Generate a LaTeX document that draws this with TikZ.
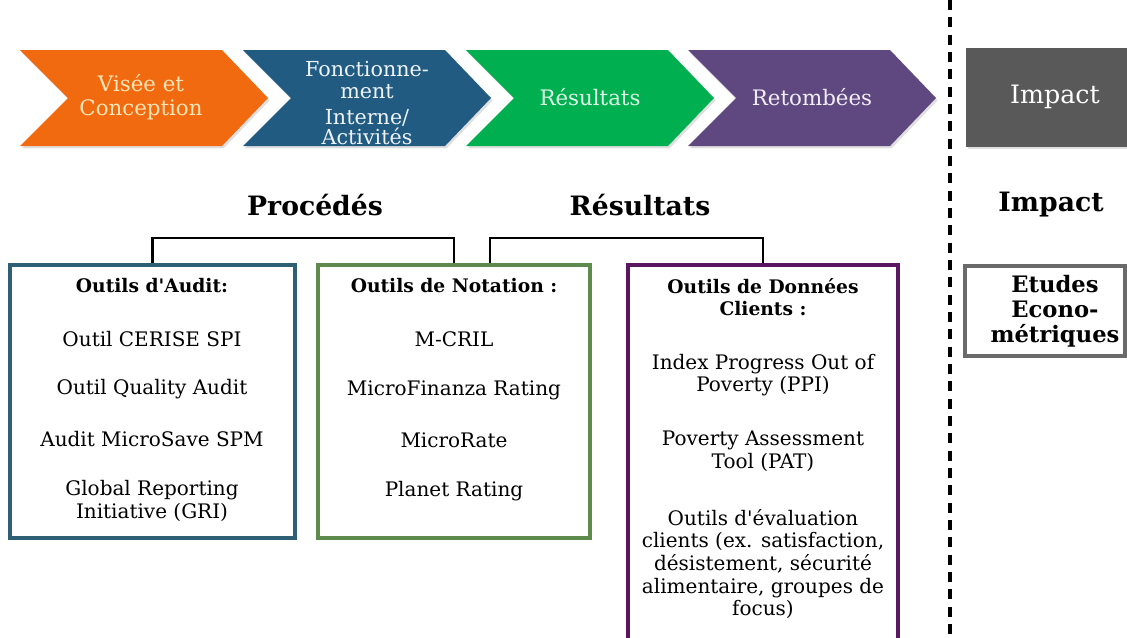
\documentclass[tikz,border=0pt]{standalone}
\usepackage{fontspec}
\setmainfont{DejaVu Serif}
\usetikzlibrary{shadows,calc}

\definecolor{cOrange}{HTML}{F26A10}
\definecolor{cBlue}{HTML}{215B82}
\definecolor{cGreen}{HTML}{00B050}
\definecolor{cPurple}{HTML}{5F4880}
\definecolor{cGrey}{HTML}{595959}
\definecolor{bBlue}{HTML}{2F5F75}
\definecolor{bGreen}{HTML}{5E8B4D}
\definecolor{bPurple}{HTML}{5A1660}
\definecolor{bGrey}{HTML}{6A6A6A}
\definecolor{tOrange}{HTML}{FDE6B8}
\definecolor{tBlue}{HTML}{EEF4FA}
\definecolor{tGreen}{HTML}{DFF6E6}
\definecolor{tPurple}{HTML}{F2EEF8}

\tikzset{
  chev/.style={fill=#1, drop shadow={opacity=0.25, shadow xshift=1.2pt, shadow yshift=-1.8pt}},
  chevtext/.style={text=white, align=center, font=\fontsize{16}{18}\selectfont},
  heading/.style={font=\bfseries\fontsize{20}{22}\selectfont},
  toolbox/.style={draw=#1, line width=3pt, minimum width=0pt, inner sep=0pt},
  title/.style={font=\bfseries\fontsize{14}{17}\selectfont, align=center},
  item/.style={font=\fontsize{15}{17}\selectfont, align=center},
  link/.style={line width=2.2pt, black}
}

\begin{document}
\begin{tikzpicture}[x=0.75pt, y=-0.75pt]
\useasboundingbox (0,0) rectangle (1127,637);

% ---- process chevrons ----
\newcommand{\chevron}[3]{%
  \fill[chev=#3] (#1,50) -- (#2-46,50) -- (#2,98) -- (#2-46,146) -- (#1,146) -- (#1+48,98) -- cycle;}
\chevron{20}{268}{cOrange}
\chevron{243}{491}{cBlue}
\chevron{466}{714}{cGreen}
\chevron{688}{936}{cPurple}
\fill[cGrey, drop shadow={opacity=0.25, shadow xshift=1.2pt, shadow yshift=-1.8pt}] (966,48) rectangle (1140,147);

\node[chevtext, text=tOrange] (c1) at (141,97) {Visée et\\Conception};
\node[chevtext, text=tBlue, font=\fontsize{15.5}{16.5}\selectfont] (c2) at (367,103) {Fonctionne-\\ment\\[3.5pt]Interne/\\[-1.5pt]Activités};
\node[chevtext, text=tGreen] (c3) at (590,97) {Résultats};
\node[chevtext, text=tPurple] (c4) at (812,97) {Retombées};
\node[chevtext, font=\fontsize{19}{20}\selectfont] (c5) at (1055,97) {Impact};

% ---- separator ----
\draw[line width=2.3pt, dash pattern=on 7.5pt off 5.5pt] (950,0) -- (950,637);

% ---- headings ----
\node[heading] (hproc) at (315,205) {Procédés};
\node[heading] (hres) at (640,205) {Résultats};
\node[heading] (himp) at (1051,205) {Impact};

% ---- tool boxes ----
\node[toolbox=bBlue, minimum width=285*0.75pt, minimum height=273*0.75pt] (b1) at (152.5,401.5) {};
\node[toolbox=bGreen, minimum width=272*0.75pt, minimum height=273*0.75pt] (b2) at (454,401.5) {};
\node[toolbox=bPurple, minimum width=270*0.75pt, minimum height=380*0.75pt] (b3) at (763,455) {};
\node[toolbox=bGrey, minimum width=160*0.75pt, minimum height=90*0.75pt] (b4) at (1045,311) {};

% ---- brackets ----
\coordinate (k2) at ($(b2.north)+(36,0)$);
\draw[link] (b1.north) -- ++(0,-25) -| (b2.north);
\draw[link] (k2) -- ++(0,-25) -| (b3.north);

% ---- box contents ----
\node[title] (t1) at (152,286) {Outils d\textquotesingle Audit:};
\node[item] (i11) at (152,339) {Outil CERISE SPI};
\node[item] (i12) at (152,389) {Outil Quality Audit};
\node[item] (i13) at (152,439) {Audit MicroSave SPM};
\node[item] (i14) at (152,501) {Global Reporting\\Initiative (GRI)};

\node[title] (t2) at (454,286) {Outils de Notation :};
\node[item] (i21) at (454,339) {M-CRIL};
\node[item] (i22) at (454,390) {MicroFinanza Rating};
\node[item] (i23) at (454,440) {MicroRate};
\node[item] (i24) at (454,491) {Planet Rating};

\node[title] (t3) at (763,297) {Outils de Données\\Clients :};
\node[item] (i31) at (763,375) {Index Progress Out of\\Poverty (PPI)};
\node[item] (i32) at (763,451) {Poverty Assessment\\Tool (PAT)};
\node[item] (i33) at (763,564) {Outils d\textquotesingle évaluation\\clients (ex. satisfaction,\\désistement, sécurité\\alimentaire, groupes de\\focus)};

\node[title, font=\bfseries\fontsize{17}{18.75}\selectfont] (t4) at (1055,311) {Etudes\\Econo-\\métriques};
\end{tikzpicture}
\end{document}
